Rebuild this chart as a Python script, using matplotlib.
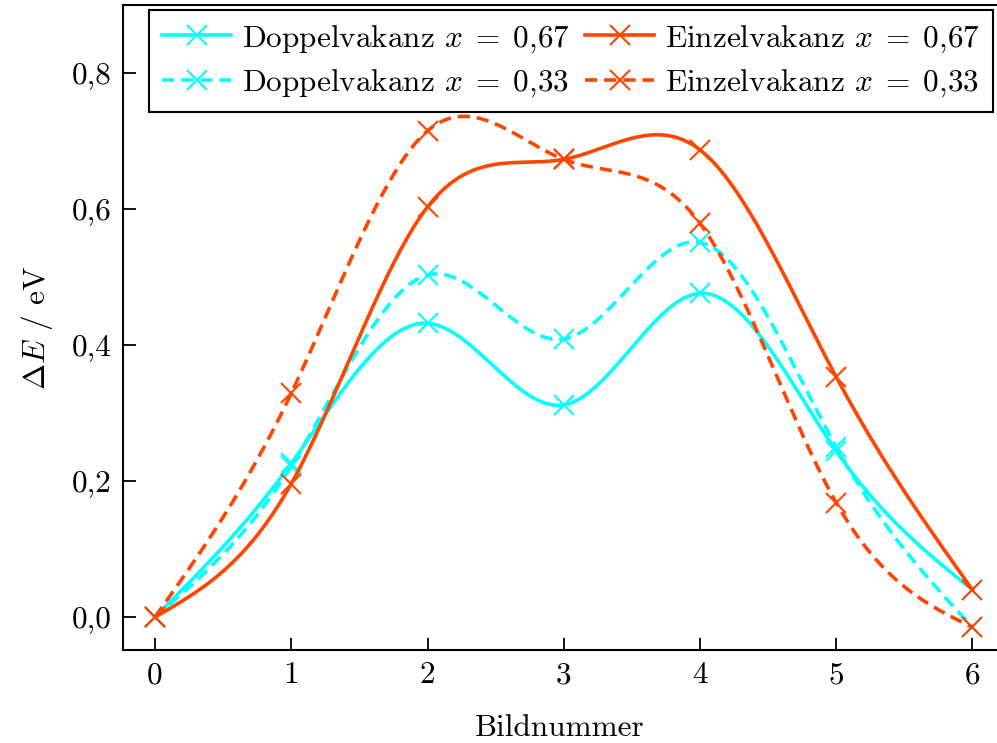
import numpy as np
import matplotlib
matplotlib.use("Agg")
import matplotlib.pyplot as plt

plt.rcParams['font.family'] = ['cmr10', 'DejaVu Serif']
plt.rcParams['mathtext.fontset'] = 'cm'
plt.rcParams['axes.formatter.use_mathtext'] = True

# ---- data ----
images = [0, 1, 2, 3, 4, 5, 6]
doppel_067 = [0.0, 0.226, 0.432, 0.312, 0.476, 0.244, 0.040]
doppel_033 = [0.0, 0.222, 0.503, 0.409, 0.551, 0.250, -0.015]
einzel_067 = [0.0, 0.196, 0.603, 0.673, 0.687, 0.353, 0.040]
einzel_033 = [0.0, 0.329, 0.715, 0.673, 0.579, 0.168, -0.015]

labels = [r'Doppelvakanz $x\;=\;0{,}67$', r'Doppelvakanz $x\;=\;0{,}33$',
          r'Einzelvakanz $x\;=\;0{,}67$', r'Einzelvakanz $x\;=\;0{,}33$']
xticks = [0, 1, 2, 3, 4, 5, 6]
yticks = [0.0, 0.2, 0.4, 0.6, 0.8]
yticklabels = ['0,0', '0,2', '0,4', '0,6', '0,8']

cyan = '#00FFFF'
red = '#FF4500'


def spline_curve(x, y, n=400):
    """Natural cubic spline through the data points (for drawing only)."""
    x = np.asarray(x, float)
    y = np.asarray(y, float)
    k = len(x)
    h = np.diff(x)
    A = np.zeros((k, k))
    b = np.zeros(k)
    A[0, 0] = 1
    A[-1, -1] = 1
    for i in range(1, k - 1):
        A[i, i - 1] = h[i - 1]
        A[i, i] = 2 * (h[i - 1] + h[i])
        A[i, i + 1] = h[i]
        b[i] = 6 * ((y[i + 1] - y[i]) / h[i] - (y[i] - y[i - 1]) / h[i - 1])
    M = np.linalg.solve(A, b)
    xs = np.linspace(x[0], x[-1], n)
    idx = np.clip(np.searchsorted(x, xs) - 1, 0, k - 2)
    x0, x1 = x[idx], x[idx + 1]
    hh = x1 - x0
    a = (x1 - xs) / hh
    bb = (xs - x0) / hh
    ys = (a * y[idx] + bb * y[idx + 1]
          + ((a ** 3 - a) * M[idx] + (bb ** 3 - bb) * M[idx + 1]) * hh ** 2 / 6)
    return xs, ys


fig = plt.figure(figsize=(9.97, 7.43), dpi=100)
ax = fig.add_axes([123 / 997, 93 / 743, 1 - 123 / 997, (650 - 5) / 743])

LW = 2.6
DASH = (3.4, 1.9)
MS = 14
MEW = 1.5
FS = 22.5

series = [(doppel_067, cyan, '-'), (doppel_033, cyan, '--'),
          (einzel_067, red, '-'), (einzel_033, red, '--')]
handles = []
for (vals, col, ls), lab in zip(series, labels):
    xs, ys = spline_curve(images, vals)
    ln, = ax.plot(xs, ys, color=col, ls=ls, lw=LW)
    if ls == '--':
        ln.set_dashes(DASH)
    ax.plot(images, vals, ls='none', marker='x', ms=MS, mew=MEW, color=col)
    h, = ax.plot([], [], color=col, ls=ls, lw=LW, marker='x', ms=MS, mew=MEW,
                 label=lab)
    if ls == '--':
        h.set_dashes(DASH)
    handles.append(h)

ax.set_xlim(-0.235, 6.18)
ax.set_ylim(-0.0485, 0.9)
ax.set_xticks(xticks)
ax.set_xticklabels([str(t) for t in xticks])
ax.set_yticks(yticks)
ax.set_yticklabels(yticklabels)
ax.tick_params(direction='in', length=9, width=1.3, labelsize=FS, pad=8,
               top=False, right=False)
for s in ['left', 'bottom', 'top']:
    ax.spines[s].set_linewidth(1.5)
ax.spines['right'].set_visible(False)

ax.set_xlabel('Bildnummer', fontsize=FS, labelpad=18)
ax.set_ylabel(r'$\Delta E$ / eV', fontsize=FS, labelpad=12)

leg = ax.legend(handles=handles, ncol=2, loc='upper right',
                bbox_to_anchor=(993 / 997, 1 - 10 / 743),
                bbox_transform=fig.transFigure, borderaxespad=0,
                fontsize=FS, fancybox=False, framealpha=1,
                edgecolor='black', handlelength=2.2, columnspacing=0.5,
                handletextpad=0.35, labelspacing=0.42, borderpad=0.42)
leg.get_frame().set_linewidth(1.5)

fig.savefig('out.png', dpi=100)
